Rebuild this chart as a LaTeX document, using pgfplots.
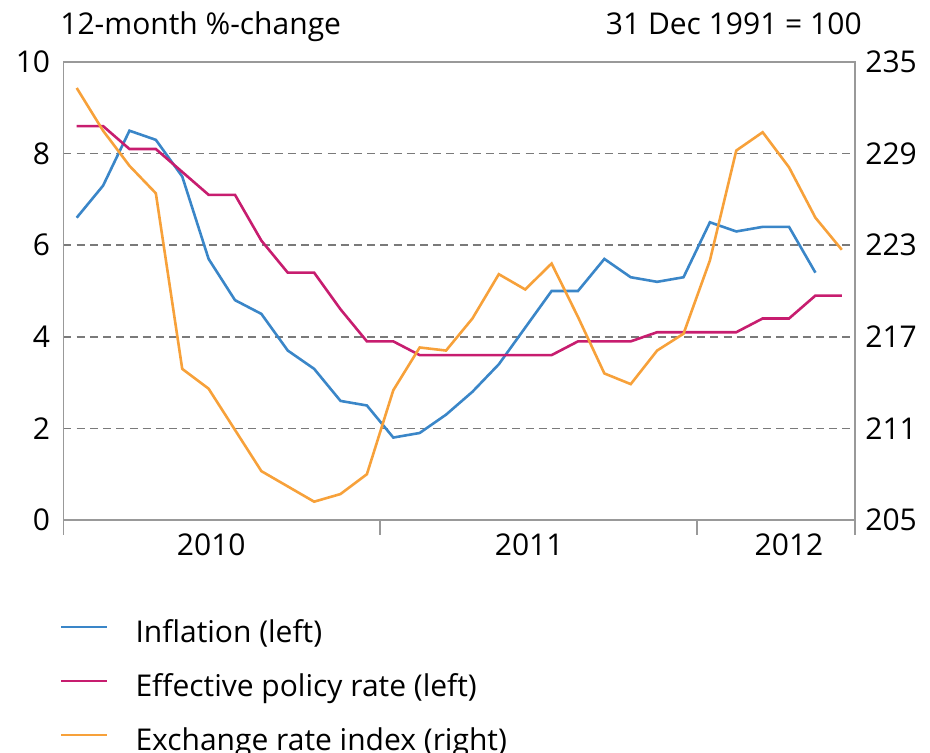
\documentclass[border=0pt]{standalone}
\usepackage{fontspec}
\setmainfont{Open Sans}
\usepackage{pgfplots}
\pgfplotsset{compat=1.18}
\definecolor{infl}{HTML}{3A86C8}
\definecolor{pol}{HTML}{C71D6F}
\definecolor{exch}{HTML}{F7A13A}
\definecolor{axgray}{HTML}{999999}
\definecolor{gridgray}{HTML}{7A7A7A}
\begin{document}
\fontsize{15pt}{18pt}\selectfont
\begin{tikzpicture}
\path[use as bounding box] (0,0) rectangle (465pt,376.5pt);
\node[anchor=base west, inner sep=0pt] at (30pt,359pt) {12-month \%-change};
\node[anchor=base east, inner sep=0pt] at (431pt,359pt) {31 Dec 1991 = 100};
\begin{axis}[
  at={(31.75pt,116.5pt)}, anchor=south west,
  scale only axis, width=395.75pt, height=229pt,
  xmin=0, xmax=30, ymin=0, ymax=10,
  xtick={5.6,17.65,27.5}, xticklabels={2010,2011,2012},
  xtick pos=bottom,
  x tick style={draw=none},
  x tick label style={yshift=-1.5pt},
  extra x ticks={0,12,24,30},
  extra x tick labels={},
  extra x tick style={x tick style={draw=axgray, line width=0.8pt}, major tick length=7.5pt, tick align=outside},
  ytick={0,2,4,6,8,10},
  y tick style={draw=none},
  y tick label style={xshift=-1.5pt},
  ymajorgrids,
  grid style={gridgray, line width=0.8pt, dash pattern=on 4pt off 2.6pt},
  axis line style={axgray, line width=0.8pt},
  ticklabel style={font=\fontsize{15pt}{18pt}\selectfont},
  /pgf/number format/assume math mode=true,
  legend cell align=left,
  legend style={draw=none, fill=none, at={(-0.005,-0.222)}, anchor=north west, inner sep=0pt,
    font=\fontsize{15pt}{18pt}\selectfont,
    nodes={inner sep=0pt, text height=10pt, text depth=3pt},
    /tikz/row sep=14pt},
  legend image code/.code={\draw[#1] (0pt,4pt) -- (23pt,4pt); \path (36.5pt,0pt);},
  clip=false,
]
\addplot[infl, line width=1.3pt] coordinates {
(0.5,6.6) (1.5,7.3) (2.5,8.5) (3.5,8.3) (4.5,7.5) (5.5,5.7) (6.5,4.8) (7.5,4.5)
(8.5,3.7) (9.5,3.3) (10.5,2.6) (11.5,2.5) (12.5,1.8) (13.5,1.9) (14.5,2.3) (15.5,2.8)
(16.5,3.4) (17.5,4.2) (18.5,5.0) (19.5,5.0) (20.5,5.7) (21.5,5.3) (22.5,5.2) (23.5,5.3)
(24.5,6.5) (25.5,6.3) (26.5,6.4) (27.5,6.4) (28.5,5.4)};
\addlegendentry{Inflation (left)}
\addplot[pol, line width=1.3pt] coordinates {
(0.5,8.6) (1.5,8.6) (2.5,8.1) (3.5,8.1) (4.5,7.6) (5.5,7.1) (6.5,7.1) (7.5,6.1)
(8.5,5.4) (9.5,5.4) (10.5,4.6) (11.5,3.9) (12.5,3.9) (13.5,3.6) (14.5,3.6) (15.5,3.6)
(16.5,3.6) (17.5,3.6) (18.5,3.6) (19.5,3.9) (20.5,3.9) (21.5,3.9) (22.5,4.1) (23.5,4.1)
(24.5,4.1) (25.5,4.1) (26.5,4.4) (27.5,4.4) (28.5,4.9) (29.5,4.9)};
\addlegendentry{Effective policy rate (left)}
\addlegendimage{exch, line width=1.3pt}
\addlegendentry{Exchange rate index (right)}
\end{axis}
\begin{axis}[
  at={(31.75pt,116.5pt)}, anchor=south west,
  scale only axis, width=395.75pt, height=229pt,
  xmin=0, xmax=30, ymin=205, ymax=235,
  axis x line=none, axis y line*=right,
  ytick={205,211,...,235},
  y tick style={draw=none},
  axis line style={axgray, line width=0.8pt},
  ticklabel style={font=\fontsize{15pt}{18pt}\selectfont},
  /pgf/number format/assume math mode=true,
  clip=false,
]
\addplot[exch, line width=1.3pt] coordinates {
(0.5,233.3) (1.5,230.5) (2.5,228.2) (3.5,226.4) (4.5,214.9) (5.5,213.6) (6.5,210.9) (7.5,208.2)
(8.5,207.2) (9.5,206.2) (10.5,206.7) (11.5,208.0) (12.5,213.5) (13.5,216.3) (14.5,216.1) (15.5,218.2)
(16.5,221.1) (17.5,220.1) (18.5,221.8) (19.5,218.3) (20.5,214.6) (21.5,213.9) (22.5,216.1) (23.5,217.2)
(24.5,222.0) (25.5,229.2) (26.5,230.4) (27.5,228.1) (28.5,224.8) (29.5,222.7)};
\end{axis}
\end{tikzpicture}
\end{document}
